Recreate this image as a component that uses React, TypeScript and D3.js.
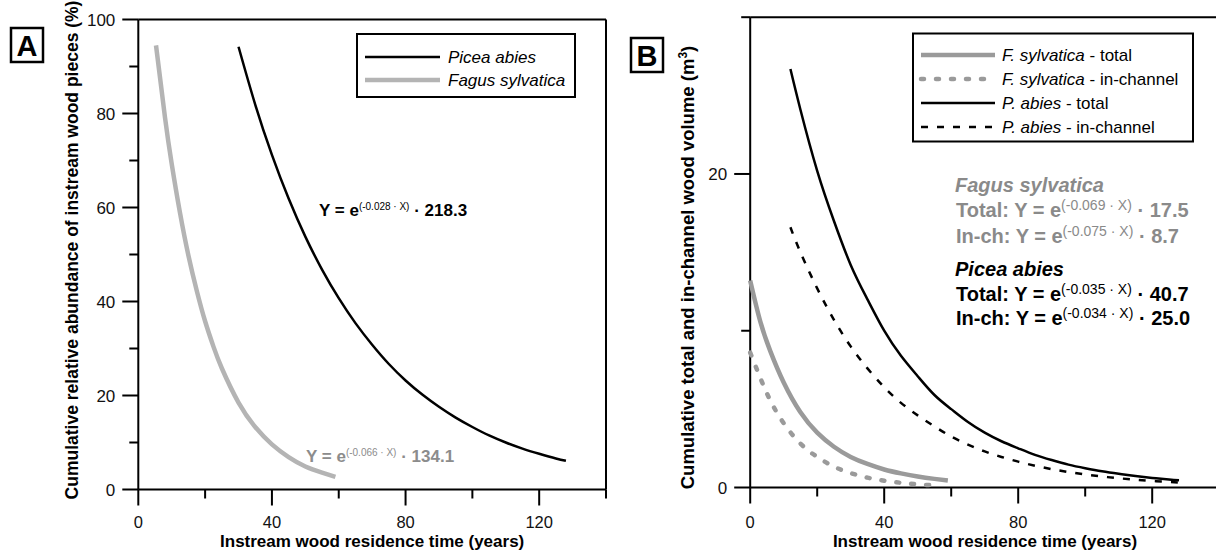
import React from "react";
import * as d3 from "d3";

// ---------- Data ----------
// Panel A: cumulative relative abundance (%) vs residence time (years)
const aPiceaX = [30, 35, 40, 45, 50, 55, 60, 65, 70, 75, 80, 85, 90, 95, 100, 105, 110, 115, 120, 125, 128];
const aPiceaY = [94.2, 81.9, 71.2, 61.9, 53.8, 46.8, 40.7, 35.4, 30.8, 26.7, 23.2, 20.2, 17.6, 15.3, 13.3, 11.5, 10.0, 8.7, 7.6, 6.6, 6.1];
const aFagusX = [5.3, 8, 10, 12.5, 15, 17.5, 20, 22.5, 25, 30, 35, 40, 45, 50, 55, 59];
const aFagusY = [94.5, 79.1, 69.3, 58.8, 49.8, 42.3, 35.8, 30.4, 25.8, 18.5, 13.3, 9.6, 6.9, 4.9, 3.6, 2.7];

// Panel B: cumulative wood volume (m3) vs residence time (years)
const bFagusTotX = [0, 3, 6, 10, 15, 20, 25, 30, 35, 40, 45, 50, 55, 59];
const bFagusTotY = [13.2, 10.6, 8.7, 6.7, 4.8, 3.5, 2.6, 1.95, 1.5, 1.15, 0.9, 0.7, 0.55, 0.45];
const bFagusInX = [0, 3, 6, 10, 15, 20, 25, 30, 35, 40, 45, 50, 56];
const bFagusInY = [8.6, 7.0, 5.55, 4.1, 2.8, 1.95, 1.33, 0.92, 0.63, 0.43, 0.3, 0.2, 0.13];
const bPiceaTotX = [12, 15, 20, 25, 30, 35, 40, 45, 50, 55, 60, 65, 70, 75, 80, 85, 90, 95, 100, 105, 110, 115, 120, 125, 128];
const bPiceaTotY = [26.7, 24.1, 20.2, 17.0, 14.2, 12.0, 10.0, 8.4, 7.1, 5.9, 5.0, 4.18, 3.5, 2.95, 2.5, 2.08, 1.75, 1.46, 1.23, 1.03, 0.87, 0.73, 0.61, 0.51, 0.46];
const bPiceaInX = [12, 15, 20, 25, 30, 35, 40, 45, 50, 55, 60, 65, 70, 75, 80, 85, 90, 95, 100, 105, 110, 115, 120, 125, 128];
const bPiceaInY = [16.6, 15.0, 12.7, 10.7, 9.0, 7.6, 6.4, 5.4, 4.6, 3.9, 3.25, 2.74, 2.3, 1.95, 1.65, 1.39, 1.17, 0.99, 0.83, 0.7, 0.59, 0.5, 0.42, 0.36, 0.32];

// Ticks
const xMajorTicks = [0, 40, 80, 120];
const xMinorTicks = [20, 60, 100, 140];
const aYMajorTicks = [0, 20, 40, 60, 80, 100];
const aYMinorTicks = [10, 30, 50, 70, 90];
const bYMajorTicks = [0, 20];
const bYMinorTicks = [10, 30];

// Labels
const xTitle = "Instream wood residence time (years)";
const aYTitle = "Cumulative relative abundance of instream wood pieces (%)";
const bYTitle = "Cumulative total and in-channel wood volume (m";
const aLegend = ["Picea abies", "Fagus sylvatica"];
const bLegendSpecies = ["F. sylvatica", "F. sylvatica", "P. abies", "P. abies"];
const bLegendSuffix = [" - total", " - in-channel", " - total", " - in-channel"];

const FONT = "'Liberation Sans', Arial, Helvetica, sans-serif";
const GRAY_A = "#b4b4b4";
const GRAY_A_TEXT = "#8c8c8c";
const GRAY_B = "#9a9a9a";
const GRAY_B_TEXT = "#8a8a8a";

type Scale = d3.ScaleLinear<number, number>;

function makePath(xs: number[], ys: number[], x: Scale, y: Scale) {
  const gen = d3
    .line<number>()
    .x((d) => x(d))
    .y((_, i) => y(ys[i]))
    .curve(d3.curveNatural);
  return gen(xs) || "";
}

function Frame({ x, y, yMajor, yMinor }: { x: Scale; y: Scale; yMajor: number[]; yMinor: number[] }) {
  const [x0, x1] = x.range();
  const [yb, yt] = y.range();
  const els: React.ReactNode[] = [];
  const sw = 2;
  els.push(<line key="l" x1={x0} x2={x0} y1={yt} y2={yb} stroke="#000" strokeWidth={sw} />);
  els.push(<line key="b" x1={x0} x2={x1} y1={yb} y2={yb} stroke="#000" strokeWidth={sw} />);
  els.push(<line key="t" x1={x0} x2={x1} y1={yt} y2={yt} stroke="#000" strokeWidth={sw} />);
  els.push(<line key="r" x1={x1} x2={x1} y1={yt} y2={yb} stroke="#000" strokeWidth={sw} />);
  xMajorTicks.forEach((t) => {
    els.push(<line key={"xM" + t} x1={x(t)} x2={x(t)} y1={yb} y2={yb + 16} stroke="#000" strokeWidth={sw} />);
    els.push(
      <text key={"xl" + t} x={x(t)} y={527.5} textAnchor="middle" fontSize={16.5} fontFamily={FONT} fill="#111">
        {t}
      </text>
    );
  });
  xMinorTicks.forEach((t) => {
    els.push(<line key={"xm" + t} x1={x(t)} x2={x(t)} y1={yb} y2={yb + 9} stroke="#000" strokeWidth={sw} />);
  });
  yMajor.forEach((t) => {
    els.push(<line key={"yM" + t} x1={x0 - 16} x2={x0} y1={y(t)} y2={y(t)} stroke="#000" strokeWidth={sw} />);
    els.push(
      <text key={"yl" + t} x={x0 - 23} y={y(t) + 6} textAnchor="end" fontSize={17} fontFamily={FONT} fill="#111">
        {t}
      </text>
    );
  });
  yMinor.forEach((t) => {
    els.push(<line key={"ym" + t} x1={x0 - 9} x2={x0} y1={y(t)} y2={y(t)} stroke="#000" strokeWidth={sw} />);
  });
  return <g>{els}</g>;
}

function PanelLabel({ x, y, letter }: { x: number; y: number; letter: string }) {
  return (
    <g>
      <rect x={x} y={y} width={32} height={34} fill="#fff" stroke="#000" strokeWidth={2.5} />
      <text x={x + 16} y={y + 28} textAnchor="middle" fontSize={29} fontWeight="bold" fontFamily={FONT}>
        {letter}
      </text>
    </g>
  );
}

function Equation({ x, y, prefix, exp, tail, color, size, supSize, rise }: any) {
  return (
    <text x={x} y={y} fontFamily={FONT} fontWeight="bold" fontSize={size} fill={color}>
      <tspan>{prefix}Y = e</tspan>
      <tspan fontSize={supSize} fontWeight="normal" dy={-rise}>
        {exp}
      </tspan>
      <tspan dy={rise}>{" · " + tail}</tspan>
    </text>
  );
}

export default function App() {
  const xA = d3.scaleLinear().domain([0, 140]).range([138.3, 606]);
  const yA = d3.scaleLinear().domain([0, 100]).range([489.5, 19.5]);
  const xB = d3.scaleLinear().domain([0, 140]).range([750.2, 1219.2]);
  const yB = d3.scaleLinear().domain([0, 30]).range([487.5, 17.2]);

  const bLegendStyles = [
    { stroke: GRAY_B, width: 4.5, dash: undefined, cap: "butt" },
    { stroke: GRAY_B, width: 4.5, dash: "3,12", cap: "round" },
    { stroke: "#000", width: 2.5, dash: undefined, cap: "butt" },
    { stroke: "#000", width: 2.5, dash: "7,9", cap: "butt" },
  ];
  const bSeries = [
    { xs: bFagusTotX, ys: bFagusTotY },
    { xs: bFagusInX, ys: bFagusInY },
    { xs: bPiceaTotX, ys: bPiceaTotY },
    { xs: bPiceaInX, ys: bPiceaInY },
  ];

  return (
    <svg
      width={1216}
      height={550}
      style={{ position: "absolute", left: 0, top: 0, background: "#fff" }}
      fontFamily={FONT}
    >
      <rect width={1216} height={550} fill="#fff" />
      {/* ---------------- Panel A ---------------- */}
      <PanelLabel x={11} y={28} letter="A" />
      <Frame x={xA} y={yA} yMajor={aYMajorTicks} yMinor={aYMinorTicks} />
      <path d={makePath(aFagusX, aFagusY, xA, yA)} fill="none" stroke={GRAY_A} strokeWidth={4.5} />
      <path d={makePath(aPiceaX, aPiceaY, xA, yA)} fill="none" stroke="#000" strokeWidth={2.5} />
      <text
        transform={`translate(78,${(8 + 492) / 2}) rotate(-90)`}
        textAnchor="middle"
        fontSize={17.5}
        fontWeight="bold"
        fontFamily={FONT}
      >
        {aYTitle}
      </text>
      <text x={(138.3 + 606) / 2} y={547} textAnchor="middle" fontSize={17} fontWeight="bold" fontFamily={FONT}>
        {xTitle}
      </text>
      <Equation x={319} y={216} prefix="" exp="(-0.028 · X)" tail="218.3" color="#000" size={17} supSize={10} rise={6} />
      <Equation x={306} y={462} prefix="" exp="(-0.066 · X)" tail="134.1" color={GRAY_A_TEXT} size={17} supSize={10} rise={6} />
      {/* Legend A */}
      <rect x={357} y={34} width={218} height={63} fill="#fff" stroke="#000" strokeWidth={2} />
      {aLegend.map((name, i) => (
        <g key={name}>
          <line
            x1={365}
            x2={440}
            y1={57 + i * 23}
            y2={57 + i * 23}
            stroke={i === 0 ? "#000" : GRAY_A}
            strokeWidth={i === 0 ? 2.5 : 4.5}
          />
          <text x={448} y={57 + i * 23 + 6} fontSize={17} fontStyle="italic" fontFamily={FONT}>
            {name}
          </text>
        </g>
      ))}

      {/* ---------------- Panel B ---------------- */}
      <PanelLabel x={631} y={38} letter="B" />
      <Frame x={xB} y={yB} yMajor={bYMajorTicks} yMinor={bYMinorTicks} />
      {bSeries.map((s, i) => (
        <path
          key={i}
          d={makePath(s.xs, s.ys, xB, yB)}
          fill="none"
          stroke={bLegendStyles[i].stroke}
          strokeWidth={bLegendStyles[i].width}
          strokeDasharray={bLegendStyles[i].dash}
          strokeLinecap={bLegendStyles[i].cap as any}
        />
      ))}
      <text
        transform={`translate(694,267.5) rotate(-90)`}
        textAnchor="middle"
        fontSize={18.5}
        fontWeight="bold"
        fontFamily={FONT}
      >
        {bYTitle}
        <tspan fontSize={12} dy={-7}>
          3
        </tspan>
        <tspan dy={7}>)</tspan>
      </text>
      <text x={985} y={547} textAnchor="middle" fontSize={17} fontWeight="bold" fontFamily={FONT}>
        {xTitle}
      </text>
      {/* Legend B */}
      <rect x={913} y={33.5} width={280} height={108} fill="#fff" stroke="#000" strokeWidth={2} />
      {bLegendSpecies.map((sp, i) => {
        const yy = 55 + i * 24;
        const st = bLegendStyles[i];
        return (
          <g key={i}>
            <line
              x1={921}
              x2={995}
              y1={yy}
              y2={yy}
              stroke={st.stroke}
              strokeWidth={st.width}
              strokeDasharray={st.dash}
              strokeLinecap={st.cap as any}
            />
            <text x={1002} y={yy + 6} fontSize={17} fontFamily={FONT}>
              <tspan fontStyle="italic">{sp}</tspan>
              <tspan>{bLegendSuffix[i]}</tspan>
            </text>
          </g>
        );
      })}
      {/* Equations B */}
      <text x={955} y={192} fontSize={20} fontWeight="bold" fontStyle="italic" fill={GRAY_B_TEXT} fontFamily={FONT}>
        Fagus sylvatica
      </text>
      <Equation x={956} y={217} prefix="Total: " exp="(-0.069 · X)" tail="17.5" color={GRAY_B_TEXT} size={20} supSize={14} rise={7} />
      <Equation x={956} y={243} prefix="In-ch: " exp="(-0.075 · X)" tail="8.7" color={GRAY_B_TEXT} size={20} supSize={14} rise={7} />
      <text x={955} y={276} fontSize={20} fontWeight="bold" fontStyle="italic" fill="#000" fontFamily={FONT}>
        Picea abies
      </text>
      <Equation x={956} y={301} prefix="Total: " exp="(-0.035 · X)" tail="40.7" color="#000" size={20} supSize={14} rise={7} />
      <Equation x={956} y={325} prefix="In-ch: " exp="(-0.034 · X)" tail="25.0" color="#000" size={20} supSize={14} rise={7} />
    </svg>
  );
}
